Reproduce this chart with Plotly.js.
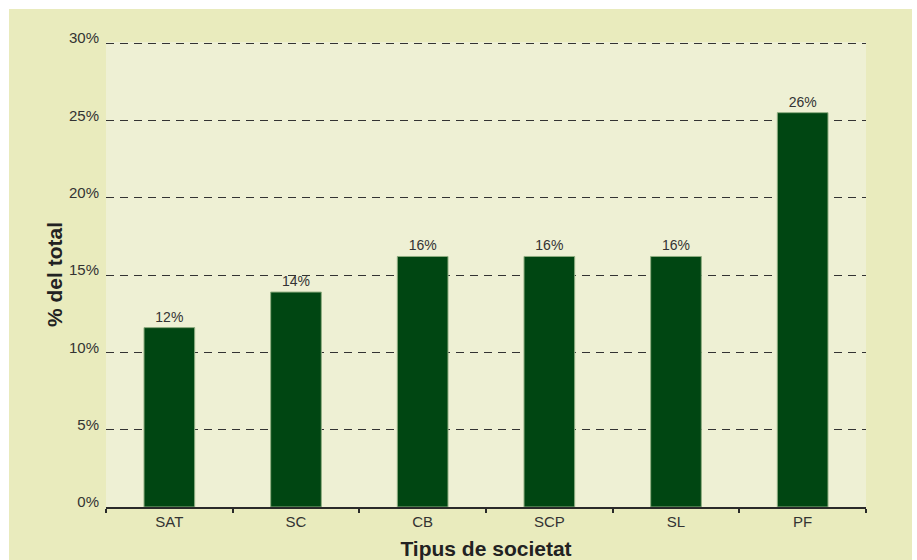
<!DOCTYPE html>
<html><head><meta charset="utf-8">
<script src="https://cdn.plot.ly/plotly-3.0.1.min.js"></script>
<style>
html,body{margin:0;padding:0;background:#ffffff;}
#wrap{position:relative;width:917px;height:560px;}
#bg{position:absolute;left:9px;top:9px;width:903px;height:551px;background:#e9ebbd;}
#chart{position:absolute;left:0;top:0;width:917px;height:560px;}
</style></head>
<body>
<div id="wrap"><div id="bg"></div><div id="chart"></div></div>
<script>
const categories = ["SAT", "SC", "CB", "SCP", "SL", "PF"];
const values = [11.6, 13.9, 16.2, 16.2, 16.2, 25.5];
const valueLabels = ["12%", "14%", "16%", "16%", "16%", "26%"];
const yTicks = [0, 5, 10, 15, 20, 25, 30];
const yTickLabels = ["0%", "5%", "10%", "15%", "20%", "25%", "30%"];

const trace = {
  type: "bar",
  x: categories,
  y: values,
  text: valueLabels,
  textposition: "outside",
  cliponaxis: false,
  textfont: {family: "Liberation Sans, Arial, sans-serif", size: 14, color: "#333333"},
  marker: {color: "#004612", line: {color: "#8fae80", width: 1}},
  width: 0.4,
  hoverinfo: "skip"
};

const layout = {
  width: 917, height: 560,
  margin: {l: 106, r: 51, t: 42, b: 53},
  paper_bgcolor: "rgba(0,0,0,0)",
  plot_bgcolor: "#eef0d4",
  showlegend: false,
  font: {family: "Liberation Sans, Arial, sans-serif", color: "#333333", size: 15},
  xaxis: {
    type: "category",
    showline: true, linecolor: "#2a2a2a", linewidth: 2,
    ticks: "outside", tickson: "boundaries", ticklen: 4, tickwidth: 2, tickcolor: "#2a2a2a",
    showgrid: false, zeroline: false,
    tickfont: {size: 15, color: "#333333"},
    title: {text: "Tipus de societat", font: {size: 21, color: "#222222", family: "Liberation Sans, Arial, sans-serif", weight: "bold"}, standoff: 13}
  },
  yaxis: {
    range: [0, 30.07],
    tickmode: "array", tickvals: yTicks, ticktext: yTickLabels,
    showgrid: true, gridcolor: "#333333", gridwidth: 1, griddash: "8px,6px",
    zeroline: false, showline: false, ticks: "",
    ticklabelstandoff: 6, ticklabelshift: -5,
    tickfont: {size: 15, color: "#333333"},
    title: {text: "% del total", font: {size: 21, color: "#222222", family: "Liberation Sans, Arial, sans-serif", weight: "bold"}, standoff: 0}
  },
  bargap: 0.6
};

Plotly.newPlot("chart", [trace], layout, {displayModeBar: false, staticPlot: true});
</script>
</body></html>
